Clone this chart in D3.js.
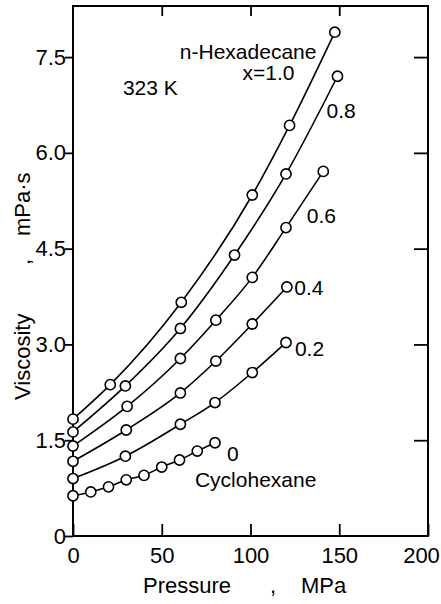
<!DOCTYPE html>
<html>
<head>
<meta charset="utf-8">
<script src="https://cdn.jsdelivr.net/npm/d3@7"></script>
<style>
body{margin:0;background:#fff;}
text{font-family:"Liberation Sans",Arial,sans-serif;fill:#000;}
</style>
</head>
<body>
<script>
var w = 441;
var h = 604;

// mole fraction of n-hexadecane, pressure in MPa, viscosity in mPa.s
var series = ["1.0","0.8","0.6","0.4","0.2","0"];
var pressure = [
  [0, 21, 61, 101, 122, 147.5],
  [0, 29.5, 60.5, 91, 120, 149],
  [0, 30.5, 60.5, 80.5, 101, 120, 141],
  [0, 30, 60.5, 80.5, 101, 120.5],
  [0, 29.5, 60.5, 80, 101, 120],
  [0, 10, 20, 30, 40, 50, 60, 70, 80]
];
var viscosity = [
  [1.83, 2.37, 3.66, 5.34, 6.43, 7.89],
  [1.63, 2.35, 3.25, 4.40, 5.67, 7.20],
  [1.41, 2.03, 2.78, 3.38, 4.05, 4.83, 5.71],
  [1.17, 1.66, 2.24, 2.74, 3.32, 3.90],
  [0.90, 1.25, 1.75, 2.09, 2.56, 3.03],
  [0.63, 0.69, 0.77, 0.88, 0.95, 1.08, 1.19, 1.33, 1.46]
];
var xTicks = [0, 50, 100, 150, 200];
var yTicks = [0, 1.5, 3.0, 4.5, 6.0, 7.5];

var margin = {top:6, right:13, bottom:68, left:73};
var iw = w - margin.left - margin.right;
var ih = h - margin.top - margin.bottom;

var svg = d3.select("body").append("svg").attr("width",w).attr("height",h);
var g = svg.append("g").attr("transform","translate("+margin.left+","+margin.top+")");

var x = d3.scaleLinear().domain([0,200]).range([0,iw]);
var y = d3.scaleLinear().domain([0,8.3]).range([ih,0]);

// axes
var fmt = function(d){return d===0 ? "0" : d3.format(".1f")(d);};

g.append("g").attr("class","ax")
.call(d3.axisLeft(y).tickValues(yTicks).tickFormat(fmt).tickSizeInner(8).tickSizeOuter(0).tickPadding(-1));
var xb = g.append("g").attr("class","ax").attr("transform","translate(0,"+ih+")")
.call(d3.axisBottom(x).tickValues(xTicks).tickFormat(d3.format("d")).tickSizeInner(-12).tickSizeOuter(0).tickPadding(11));
g.append("g").attr("class","ax").attr("transform","translate("+iw+",0)")
.call(d3.axisRight(y).tickValues(yTicks.slice(1)).tickFormat("").tickSizeInner(-14).tickSizeOuter(0));
g.append("g").attr("class","ax")
.call(d3.axisTop(x).tickValues([50,100,150]).tickFormat("").tickSizeInner(-10).tickSizeOuter(0));

g.selectAll(".ax .domain").remove();
g.selectAll(".ax line").attr("stroke","#000").attr("stroke-width",1.8);
g.selectAll(".ax text").style("font-size","22px").attr("fill","#000");
// keep the last label inside the page
xb.selectAll(".tick text").filter(function(d){return d===200;}).attr("dx",-7);

g.append("rect").attr("width",iw).attr("height",ih)
.attr("fill","none").attr("stroke","#000").attr("stroke-width",2);

// curves
var line = d3.line()
.x(function(d){return x(d[0]);})
.y(function(d){return y(d[1]);})
.curve(d3.curveMonotoneX);

series.forEach(function(s,i){
  var pts = pressure[i].map(function(p,j){return [p, viscosity[i][j]];});
  g.append("path").datum(pts).attr("d",line)
  .attr("fill","none").attr("stroke","#000").attr("stroke-width",1.6);
  g.selectAll(null).data(pts).enter().append("circle")
  .attr("cx",function(d){return x(d[0]);})
  .attr("cy",function(d){return y(d[1]);})
  .attr("r",5.1)
  .attr("fill","#fff").attr("stroke","#000").attr("stroke-width",1.6);
});

// labels, anchored in data units
var labels = [
  ["n-Hexadecane", 60.2, 7.47],
  ["x=1.0", 95.5, 7.14],
  ["0.8", 142.8, 6.54],
  ["0.6", 131.7, 4.90],
  ["0.4", 124.7, 3.77],
  ["0.2", 125, 2.82],
  ["0", 86.7, 1.17],
  ["Cyclohexane", 68.7, 0.77],
  ["323 K", 28.1, 6.90]
];
g.selectAll(".lab").data(labels).enter().append("text")
.attr("class","lab")
.attr("x",function(d){return x(d[1]);})
.attr("y",function(d){return y(d[2]);})
.style("font-size","21px")
.text(function(d){return d[0];});

// axis titles
svg.append("text").attr("x",143).attr("y",593).style("font-size","22px").text("Pressure");
svg.append("text").attr("x",270).attr("y",593).style("font-size","22px").text(",");
svg.append("text").attr("x",301).attr("y",593).style("font-size","22px").text("MPa");

svg.append("text").attr("transform","translate(30,400) rotate(-90)").style("font-size","22px").text("Viscosity");
svg.append("text").attr("transform","translate(30,265) rotate(-90)").style("font-size","22px").text(",");
svg.append("text").attr("transform","translate(30,236) rotate(-90)").style("font-size","22px").text("mPa·s");
</script>
</body>
</html>
